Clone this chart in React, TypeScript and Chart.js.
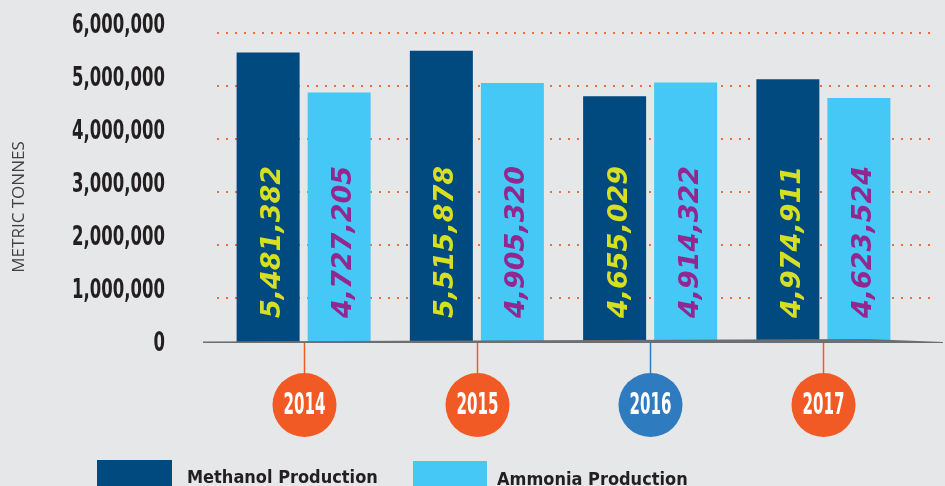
import React, { useEffect, useRef } from "react";
import { Chart, registerables } from "chart.js";

Chart.register(...registerables);

const years = ["2014", "2015", "2016", "2017"];
const methanol = [5481382, 5515878, 4655029, 4974911];
const ammonia = [4727205, 4905320, 4914322, 4623524];
const seriesNames = ["Methanol Production", "Ammonia Production"];
const yearColors = ["#f15a24", "#f15a24", "#2e7bbf", "#f15a24"];
const yMax = 6000000;
const yStep = 1000000;
const axisTitle = "METRIC TONNES";

const barColors = ["#014a80", "#45c8f5"];
const labelColors = ["#d7df23", "#92278f"];
const BG = "#e6e7e8";

const fmt = (v: number) => Number(v).toLocaleString("en-US");

const decor = {
  id: "decor",
  beforeDatasetsDraw(chart: any) {
    const { ctx, chartArea, scales } = chart;
    const y = scales.y;
    ctx.save();
    ctx.strokeStyle = "#f26b3a";
    ctx.lineWidth = 2;
    ctx.setLineDash([2, 7]);
    y.ticks.forEach((t: any) => {
      if (t.value <= 0) return;
      const py = Math.round(y.getPixelForValue(t.value)) + 8;
      ctx.beginPath();
      ctx.moveTo(chartArea.left, py);
      ctx.lineTo(chartArea.right + 20, py);
      ctx.stroke();
    });
    ctx.restore();
    // y tick labels (condensed)
    y.ticks.forEach((t: any) => {
      const py = y.getPixelForValue(t.value);
      ctx.save();
      ctx.translate(chartArea.left - 52, py);
      ctx.scale(0.68, 1);
      ctx.font = "bold 27px 'DejaVu Sans Condensed'";
      ctx.fillStyle = "#231f20";
      ctx.textAlign = "right";
      ctx.textBaseline = "middle";
      ctx.fillText(fmt(t.value), 0, 1);
      ctx.restore();
    });
    // axis title
    ctx.save();
    ctx.translate(19, (chartArea.top + chartArea.bottom) / 2 + 23);
    ctx.rotate(-Math.PI / 2);
    ctx.font = "17px 'Open Sans'";
    ctx.fillStyle = "#414042";
    ctx.textAlign = "center";
    ctx.textBaseline = "middle";
    ctx.fillText(axisTitle, 0, 0);
    ctx.restore();
  },
  afterDatasetsDraw(chart: any) {
    const { ctx, chartArea, scales } = chart;
    const x = scales.x;
    const y = scales.y;
    // value labels
    chart.data.datasets.forEach((ds: any, di: number) => {
      const meta = chart.getDatasetMeta(di);
      meta.data.forEach((bar: any, i: number) => {
        const p = bar.getProps(["x", "base"], true);
        ctx.save();
        ctx.translate(p.x + 12, p.base - 25);
        ctx.rotate(-Math.PI / 2);
        ctx.font = "italic bold 27px 'DejaVu Sans'";
        ctx.fillStyle = labelColors[di];
        ctx.textAlign = "left";
        ctx.textBaseline = "alphabetic";
        ctx.fillText(fmt(ds.data[i]), 0, 0);
        ctx.restore();
      });
    });
    // baseline
    const y0 = y.getPixelForValue(0);
    const L = chartArea.left - 14;
    const R = chart.width - 2;
    ctx.save();
    ctx.fillStyle = "#6d6e71";
    ctx.beginPath();
    ctx.moveTo(L, y0 - 1.5);
    ctx.lineTo(R - 75, y0 - 4);
    ctx.lineTo(R, y0 - 1);
    ctx.lineTo(R, y0);
    ctx.lineTo(L, y0);
    ctx.closePath();
    ctx.fill();
    ctx.restore();
    // stems & year circles
    years.forEach((yr, i) => {
      const cx = Math.round(x.getPixelForValue(i)) + 0.5;
      const r = 32;
      const cy = y0 + 62;
      ctx.save();
      ctx.strokeStyle = yearColors[i];
      ctx.lineWidth = 1.5;
      ctx.beginPath();
      ctx.moveTo(cx, y0);
      ctx.lineTo(cx, cy - r);
      ctx.stroke();
      ctx.fillStyle = yearColors[i];
      ctx.beginPath();
      ctx.arc(cx, cy, r, 0, Math.PI * 2);
      ctx.fill();
      ctx.translate(cx, cy);
      ctx.scale(0.56, 1);
      ctx.font = "bold 30px 'DejaVu Sans Condensed'";
      ctx.fillStyle = "#ffffff";
      ctx.textAlign = "center";
      ctx.textBaseline = "middle";
      ctx.fillText(yr, 0, 1);
      ctx.restore();
    });
    // legend
    const legendItems = [
      { box: [97, 460, 75, 30], tx: 187, ty: 483 },
      { box: [413, 461, 74, 30], tx: 497, ty: 485 },
    ];
    chart.data.datasets.forEach((ds: any, di: number) => {
      const it = legendItems[di];
      ctx.save();
      ctx.fillStyle = ds.backgroundColor;
      ctx.fillRect(it.box[0], it.box[1], it.box[2], it.box[3]);
      ctx.fillStyle = "#231f20";
      ctx.font = "bold 18px 'DejaVu Sans Condensed'";
      ctx.textAlign = "left";
      ctx.textBaseline = "alphabetic";
      ctx.fillText(ds.label, it.tx, it.ty);
      ctx.restore();
    });
  },
};

export default function App() {
  const ref = useRef<HTMLCanvasElement | null>(null);
  useEffect(() => {
    document.body.style.margin = "0";
    document.body.style.background = BG;
    const canvas = ref.current!;
    const chart = new Chart(canvas, {
      type: "bar",
      data: {
        labels: years,
        datasets: [
          {
            label: seriesNames[0],
            data: methanol,
            backgroundColor: barColors[0],
            categoryPercentage: 0.82,
            barPercentage: 0.887,
          },
          {
            label: seriesNames[1],
            data: ammonia,
            backgroundColor: barColors[1],
            categoryPercentage: 0.82,
            barPercentage: 0.887,
          },
        ],
      },
      options: {
        animation: false,
        responsive: false,
        devicePixelRatio: 1,
        layout: { padding: { top: 25, right: 35, bottom: 143, left: 0 } },
        plugins: {
          legend: { display: false },
          tooltip: { enabled: false },
        },
        scales: {
          x: {
            display: false,
            grid: { display: false },
          },
          y: {
            min: 0,
            max: yMax,
            grid: { display: false },
            border: { display: false },
            ticks: {
              display: false,
              stepSize: yStep,
            },
            title: { display: false, text: axisTitle },
            afterFit: (s: any) => {
              s.width = 217;
            },
          },
        },
      },
      plugins: [decor],
    });
    return () => chart.destroy();
  }, []);
  return (
    <div style={{ width: 945, height: 486, background: BG }}>
      <canvas ref={ref} width={945} height={486} style={{ display: "block" }} />
    </div>
  );
}
